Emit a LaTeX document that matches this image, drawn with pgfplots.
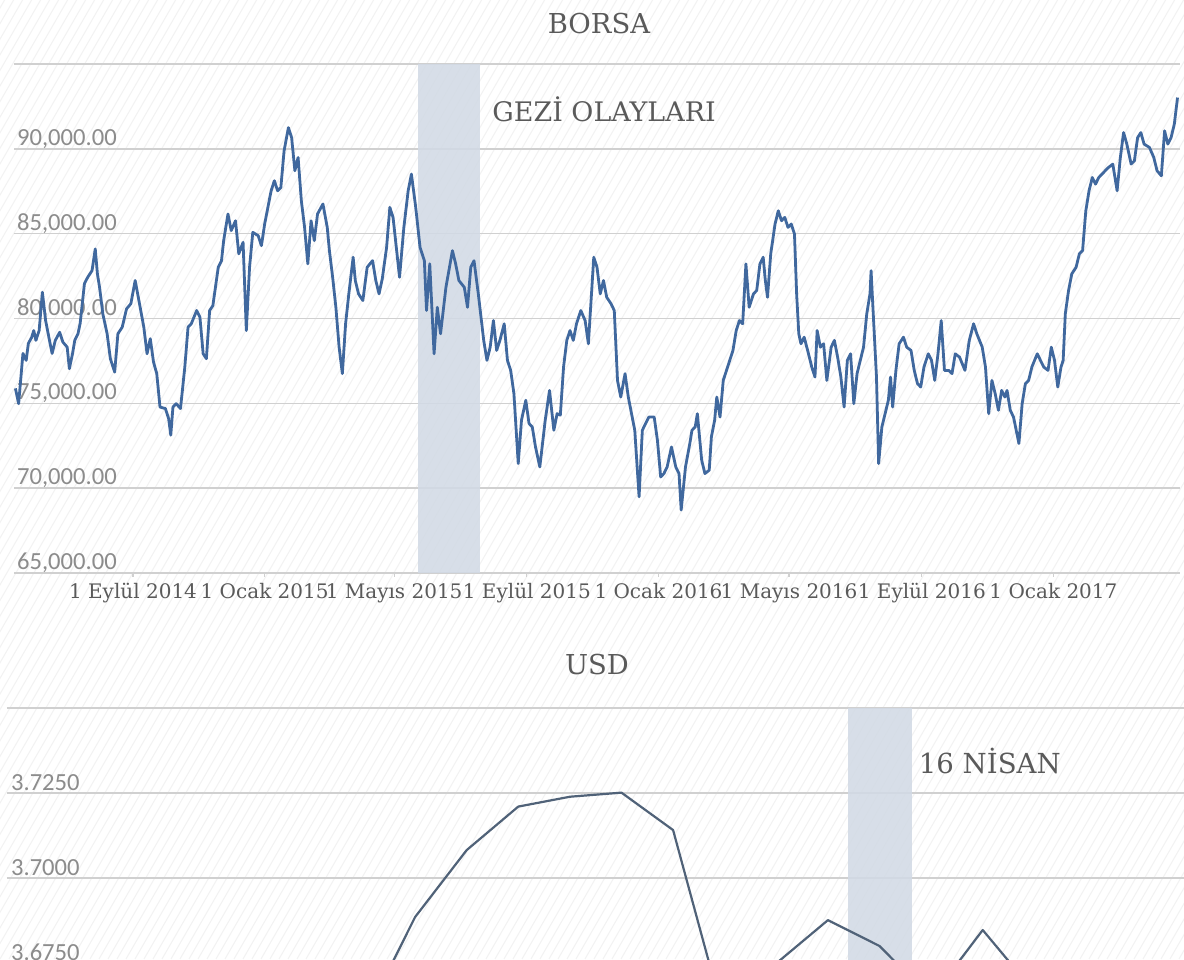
\documentclass[border=0pt]{standalone}
\usepackage{pgfplots}
\pgfplotsset{compat=1.18}
\usepackage{pgfplotstable}
\usepackage{fontspec}
\setmainfont{DejaVu Serif}
\newfontfamily\carlito{Carlito}
\definecolor{linecol}{RGB}{64,104,158}
\definecolor{usdcol}{RGB}{80,98,120}
\definecolor{gridcol}{RGB}{208,208,208}
\definecolor{bandcol}{RGB}{210,218,229}
\definecolor{ticklab}{RGB}{140,140,140}
\definecolor{txtcol}{RGB}{90,90,90}
\definecolor{hatch}{RGB}{242,242,242}

\pgfplotstableread{
d v
-109 75880
-106 74980
-102 77940
-99 77530
-97 78530
-94 78880
-92 79290
-90 78710
-87 79290
-84 81550
-81 79880
-78 78900
-75 77940
-72 78710
-68 79190
-65 78610
-61 78310
-59 77040
-56 77940
-54 78710
-51 79100
-49 79710
-45 82060
-42 82430
-38 82820
-35 84100
-33 82630
-31 81840
-28 80280
-24 79100
-21 77630
-17 76840
-14 79100
-10 79490
-6 80570
-2 80870
2 82240
6 80870
10 79490
13 77920
16 78810
19 77430
22 76750
25 74780
30 74690
33 74100
35 73120
37 74780
40 74980
44 74690
48 77140
51 79490
54 79690
59 80470
62 80080
65 77920
68 77630
71 80470
74 80760
79 83020
82 83410
84 84590
88 86160
91 85180
95 85760
98 83810
102 84490
105 79290
108 83020
111 85080
116 84880
119 84290
122 85570
125 86550
128 87530
131 88120
134 87530
137 87720
140 89880
144 91250
147 90660
150 88710
153 89490
156 86940
159 85370
162 83220
165 85760
168 84590
171 86160
176 86750
180 85370
182 84000
185 82430
188 80660
191 78310
194 76750
197 79690
200 81450
204 83610
206 82240
209 81450
213 81060
217 83020
222 83410
225 82240
228 81450
231 82340
235 84190
238 86550
241 85960
244 84190
247 82430
251 85370
255 87530
258 88510
262 86550
266 84190
270 83410
272 80470
275 83220
279 77920
282 80660
285 79100
290 81840
296 84000
299 83220
302 82240
307 81840
310 80660
313 83020
316 83410
320 81450
325 78710
328 77530
331 78310
334 79880
337 78120
340 78710
344 79690
347 77530
350 76940
353 75570
357 71450
360 74000
364 75180
367 73810
370 73610
373 72430
377 71250
382 74000
386 75760
390 73410
393 74390
396 74300
399 77140
402 78710
405 79290
408 78710
411 79690
415 80470
419 79880
422 78510
427 83610
430 83020
433 81450
436 82240
439 81250
443 80870
446 80470
449 76350
452 75370
456 76750
459 75370
462 74390
465 73410
469 69490
472 73410
475 73810
478 74190
483 74190
486 72820
489 70660
492 70860
495 71250
499 72430
503 71250
506 70860
508 68710
512 71250
516 72630
518 73410
521 73610
523 74390
527 71650
530 70860
534 71060
536 73020
539 74000
541 75370
544 74190
547 76350
550 76940
553 77530
556 78120
559 79290
562 79880
565 79690
568 83220
571 80660
575 81450
578 81650
581 83220
584 83610
586 82240
588 81250
591 83810
595 85570
598 86350
601 85760
604 85960
607 85370
610 85570
613 84980
615 81450
617 79100
619 78510
622 78900
626 77920
629 77140
632 76550
634 79290
637 78310
640 78510
643 76350
647 78310
650 78710
653 77720
656 76550
659 74780
662 77530
665 77920
668 74980
671 76750
674 77530
677 78310
680 80280
683 81450
684 82820
686 80280
689 76550
691 71450
694 73610
697 74390
700 75180
702 76550
704 74780
707 76940
710 78510
714 78900
717 78310
721 78120
724 76940
727 76160
730 75960
733 77140
737 77920
740 77530
743 76350
746 77920
749 79880
752 76940
756 76940
759 76750
762 77920
766 77720
771 76940
775 78710
779 79690
782 79100
787 78310
790 77140
793 74390
796 76350
799 75570
802 74590
805 75760
808 75370
810 75760
813 74590
816 74190
821 72630
824 74980
827 76160
830 76350
833 77140
838 77920
841 77530
844 77140
848 76940
851 78310
854 77530
857 75960
860 77140
862 77530
864 80280
867 81650
870 82630
874 83020
877 83810
880 84000
883 86350
886 87530
889 88310
892 87920
895 88310
898 88510
901 88710
904 88900
908 89100
912 87530
915 89490
918 90960
921 90280
925 89100
928 89290
931 90660
934 90960
937 90280
942 90080
946 89490
949 88710
953 88410
956 91060
959 90280
962 90660
965 91450
968 93020
}\borsa

\pgfplotstableread{
i v
0 3.640
1 3.632
2 3.645
3 3.651
4 3.638
5 3.647
6 3.655
7 3.658
8 3.6885
9 3.7082
10 3.7210
11 3.7239
12 3.7251
13 3.7141
14 3.6582
15 3.6749
16 3.6876
17 3.6800
18 3.6647
19 3.6847
20 3.6665
21 3.6550
22 3.6480
}\usd

\begin{document}
\begin{tikzpicture}
\path[use as bounding box, fill=white] (0,0) rectangle (592pt,479.5pt);
\foreach \k in {-62,...,132} {
  \draw[hatch, line width=0.5pt] (\k*4.5pt,0pt) -- ++(276.8pt,479.5pt);
}

\begin{axis}[
  at={(7pt,193pt)}, anchor=south west,
  scale only axis, width=583pt, height=254.5pt,
  xmin=-110.3, xmax=970.3, ymin=65000, ymax=95000,
  axis line style={draw=none},
  scaled y ticks=false,
  ytick={65000,70000,75000,80000,85000,90000},
  extra y ticks={95000}, extra y tick labels={},
  extra y tick style={grid=major},
  ymajorgrids, grid style={gridcol, line width=0.8pt},
  xtick={0,122,242,365,487,608,731,853},
  xticklabels={1 Eylül 2014,1 Ocak 2015,1 Mayıs 2015,1 Eylül 2015,1 Ocak 2016,1 Mayıs 2016,1 Eylül 2016,1 Ocak 2017},
  tick pos=left, tick align=outside, major tick length=2pt,
  xtick style={gridcol, line width=0.6pt},
  ytick style={draw=none},
  yticklabel style={/pgf/number format/fixed, /pgf/number format/fixed zerofill, /pgf/number format/precision=2, /pgf/number format/1000 sep={,}, /pgf/number format/assume math mode=true, font=\carlito\fontsize{12.3}{14}\selectfont, text=ticklab, anchor=base west, inner sep=0pt, xshift=3.35pt, yshift=1.7pt},
  xticklabel style={font=\fontsize{10}{12}\selectfont, text=txtcol, anchor=base, inner sep=0pt, yshift=-11pt},
  title={BORSA},
  title style={at={(axis description cs:0.5017,1.0354)}, anchor=base, inner sep=0pt, yshift=0pt, font=\fontsize{13.7}{16}\selectfont, text=txtcol},
]
\addplot[draw=none, fill=bandcol, fill opacity=0.88] coordinates {(263.7,65000) (263.7,95000) (321.9,95000) (321.9,65000)} -- cycle;
\addplot[linecol, line width=1.4pt, line join=round, mark=none] table[x=d,y=v]{\borsa};
\node[anchor=base west, inner sep=0pt, font=\fontsize{13.45}{16}\selectfont, text=txtcol] at (axis description cs:0.41,0.888) {GEZİ OLAYLARI};
\end{axis}

\begin{axis}[
  at={(3.5pt,125.5pt)}, anchor=north west,
  scale only axis, width=588.5pt, height=127.5pt,
  xmin=0.093, xmax=22.90, ymin=3.675, ymax=3.75,
  axis line style={draw=none},
  scaled y ticks=false,
  xtick=\empty,
  ytick={3.675,3.7,3.725},
  extra y ticks={3.75}, extra y tick labels={},
  extra y tick style={grid=major},
  ymajorgrids, grid style={gridcol, line width=0.8pt},
  tick pos=left, ytick style={draw=none},
  yticklabel style={/pgf/number format/fixed, /pgf/number format/fixed zerofill, /pgf/number format/precision=4, /pgf/number format/assume math mode=true, font=\carlito\fontsize{12.3}{14}\selectfont, text=ticklab, anchor=base west, inner sep=0pt, xshift=1.85pt, yshift=1.2pt},
  title={USD},
  title style={at={(axis description cs:0.5013,1.0824)}, anchor=base, inner sep=0pt, yshift=0pt, font=\fontsize{13.7}{16}\selectfont, text=txtcol},
]
\addplot[draw=none, fill=bandcol, fill opacity=0.88] coordinates {(16.39,3.6) (16.39,3.75) (17.62,3.75) (17.62,3.6)} -- cycle;
\addplot[usdcol, line width=1.1pt, line join=round, mark=none] table[x=i,y=v]{\usd};
\node[anchor=base west, inner sep=0pt, font=\fontsize{13.8}{16}\selectfont, text=txtcol] at (axis description cs:0.7744,0.745) {16 NİSAN};
\end{axis}
\end{tikzpicture}
\end{document}
